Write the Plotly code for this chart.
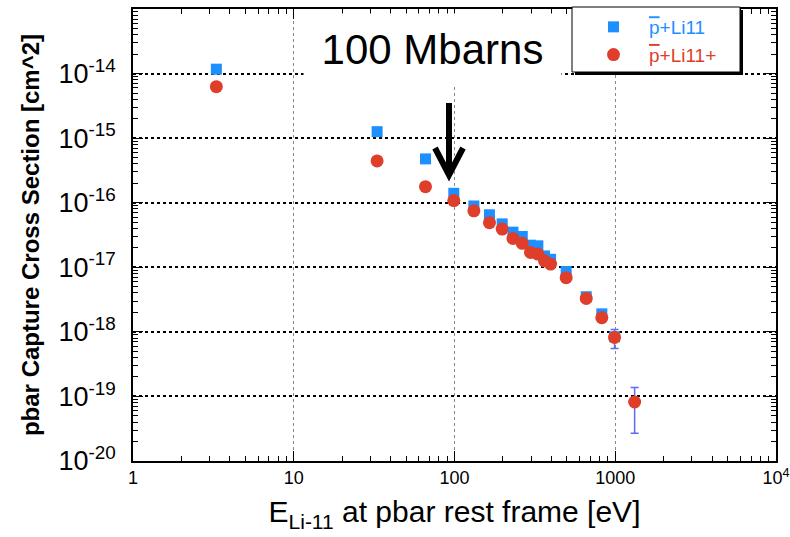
import plotly.graph_objects as go

# ---- data ----
energy = [3.3, 33, 66, 99, 132, 165, 198, 231, 264, 297, 330, 363, 396, 495, 660, 825, 990, 1320]
sigma_li11 = [1.17e-14, 1.26e-15, 4.77e-16, 1.40e-16, 8.9e-17, 6.5e-17, 4.7e-17, 3.5e-17, 3.0e-17,
              2.2e-17, 2.15e-17, 1.5e-17, 1.33e-17, 8.6e-18, 3.5e-18, 1.9e-18, 8.4e-19]
sigma_li11p = [6.27e-15, 4.44e-16, 1.77e-16, 1.08e-16, 7.5e-17, 4.9e-17, 3.9e-17, 2.8e-17, 2.35e-17,
               1.7e-17, 1.6e-17, 1.26e-17, 1.12e-17, 6.9e-18, 3.3e-18, 1.66e-18, 8.2e-19, 8.2e-20]
err_li11p = [None] * 16 + [2.7e-19, 5.5e-20]

y_tickvals = [1e-20, 1e-19, 1e-18, 1e-17, 1e-16, 1e-15, 1e-14]
y_ticktext = ["10<sup>-20</sup>", "10<sup>-19</sup>", "10<sup>-18</sup>", "10<sup>-17</sup>",
              "10<sup>-16</sup>", "10<sup>-15</sup>", "10<sup>-14</sup>"]
x_tickvals = [1, 10, 100, 1000, 10000]
x_ticktext = ["1", "10", "100", "1000", "10<sup>4</sup>"]

FONT = "Liberation Sans, Arial, Helvetica, sans-serif"
W, H = 790, 537
L, R, T, B = 133, 776, 9, 461


def px(x):
    return (x - L) / (R - L)


def py(y):
    return (B - y) / (B - T)


x_minor = [m * 10 ** k for k in range(0, 4) for m in range(2, 10)]
y_minor = [m * 10.0 ** k for k in range(-20, -13) for m in range(2, 10)]

fig = go.Figure()
fig.add_trace(go.Scatter(
    x=energy[:len(sigma_li11)], y=sigma_li11, mode="markers",
    name='<span style="color:#1E8FFF"><span style="text-decoration:overline">p</span>+Li11</span>',
    marker=dict(symbol="square", size=11, color="#1E8FFF"),
))
fig.add_trace(go.Scatter(
    x=energy, y=sigma_li11p, mode="markers",
    name='<span style="color:#DE3E2A"><span style="text-decoration:overline">p</span>+Li11+</span>',
    marker=dict(symbol="circle", size=13, color="#DE3E2A"),
    error_y=dict(type="data", array=err_li11p, visible=True, color="#5f6af0", thickness=1.5, width=4),
))

axis_common = dict(
    type="log", showline=True, linecolor="black", linewidth=1.5, mirror="allticks",
    ticks="inside", ticklen=10, tickcolor="black", tickwidth=1.2,
    zeroline=False, automargin=False,
)

fig.update_xaxes(
    **axis_common, range=[0, 4], tickmode="array", tickvals=x_tickvals, ticktext=x_ticktext,
    showgrid=True, gridcolor="#888888", griddash="dot", gridwidth=1,
    minor=dict(ticks="inside", ticklen=5, tickcolor="black", tickwidth=1, tickmode="array",
               tickvals=x_minor, showgrid=False),
    tickfont=dict(family=FONT, size=18, color="black"),
    title=dict(text="E<sub>Li-11</sub> at pbar rest frame [eV]",
               font=dict(family=FONT, size=30, color="black"), standoff=14),
)
fig.update_yaxes(
    **axis_common, range=[-20, -13], tickmode="array", tickvals=y_tickvals, ticktext=y_ticktext,
    showgrid=True, gridcolor="black", griddash="dot", gridwidth=1.8,
    minor=dict(ticks="inside", ticklen=5, tickcolor="black", tickwidth=1, tickmode="array",
               tickvals=y_minor, showgrid=False),
    tickfont=dict(family=FONT, size=27, color="black"), ticklabelstandoff=10,
    title=dict(text="<b>pbar Capture Cross Section [cm^2]</b>",
               font=dict(family=FONT, size=24, color="black"), standoff=12),
)

shapes = [
    # legend shadow + box
    dict(type="rect", xref="paper", yref="paper", x0=px(575), x1=px(743), y0=py(75), y1=py(10),
         fillcolor="black", line=dict(width=0), layer="above"),
    dict(type="rect", xref="paper", yref="paper", x0=px(572), x1=px(740), y0=py(72), y1=py(7),
         fillcolor="white", line=dict(color="black", width=1), layer="above"),
    # arrow
    dict(type="line", xref="paper", yref="paper", x0=px(449), x1=px(449), y0=py(103), y1=py(173),
         line=dict(color="black", width=6), layer="above"),
    dict(type="path", xref="paper", yref="paper",
         path=f"M {px(435)},{py(148)} L {px(449)},{py(175)} L {px(463)},{py(148)}",
         line=dict(color="black", width=6), layer="above"),
]

fig.update_layout(
    width=W, height=H, margin=dict(l=L, r=W - R, t=T, b=H - B, autoexpand=False),
    paper_bgcolor="white", plot_bgcolor="white",
    font=dict(family=FONT, color="black"),
    shapes=shapes,
    showlegend=True,
    legend=dict(x=px(578), y=py(8), xanchor="left", yanchor="top",
                bgcolor="rgba(0,0,0,0)", borderwidth=0, itemwidth=61,
                font=dict(family=FONT, size=19)),
    annotations=[
        dict(xref="paper", yref="paper", x=px(432), y=py(49), xanchor="center", yanchor="middle",
             text="100 Mbarns", showarrow=False, font=dict(family=FONT, size=42, color="black"),
             bgcolor="white", width=255, height=68),
    ],
)

fig.write_html("out.html")
